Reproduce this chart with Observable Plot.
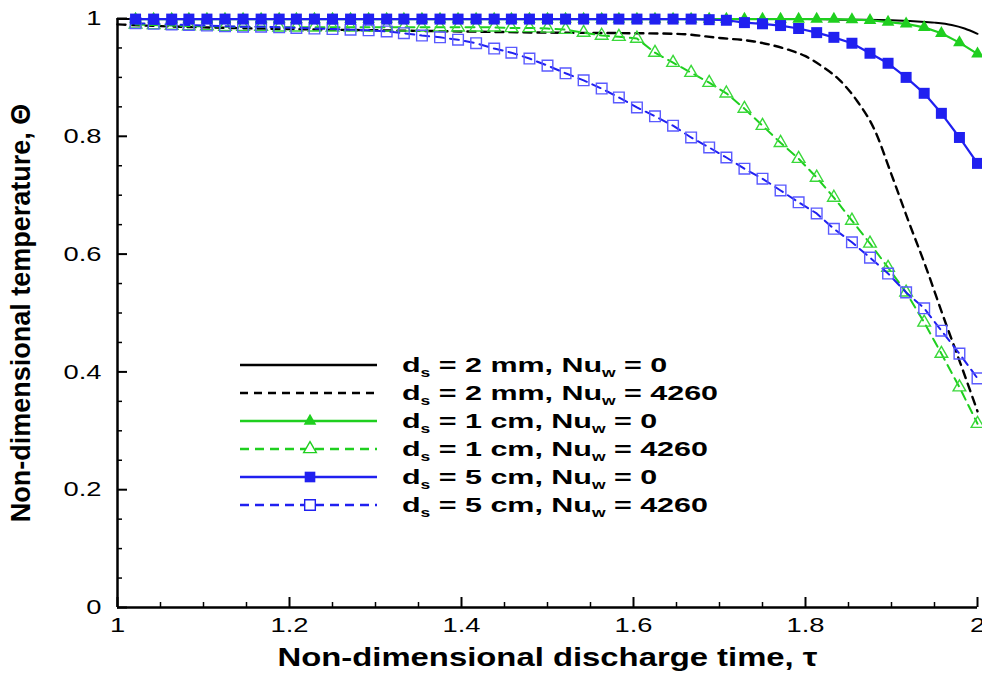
<!DOCTYPE html>
<html><head><meta charset="utf-8">
<script src="https://cdn.jsdelivr.net/npm/d3@7"></script>
<script src="https://cdn.jsdelivr.net/npm/@observablehq/plot@0.6"></script>
<style>
body{margin:0;background:#fff;}
#wrap{position:relative;width:982px;height:680px;font-family:"Liberation Sans",Arial,sans-serif;}
.row{position:absolute;left:238px;height:28px;display:flex;align-items:center;white-space:nowrap;}
.row span.t{display:inline-block;margin-left:24px;font-weight:bold;font-size:21px;line-height:22px;color:#000;transform:scaleX(1.45);transform-origin:0 50%;}
.row sub{font-size:12px;vertical-align:-5px;line-height:0;}
</style></head><body><div id="wrap"></div>
<script>
// ---- data ----
const tauMarked = [1.021,1.042,1.063,1.083,1.104,1.125,1.146,1.167,1.188,1.208,
  1.229,1.250,1.271,1.292,1.313,1.333,1.354,1.375,1.396,1.417,
  1.438,1.458,1.479,1.500,1.521,1.542,1.563,1.583,1.604,1.625,
  1.646,1.667,1.688,1.708,1.729,1.750,1.771,1.792,1.813,1.833,
  1.854,1.875,1.896,1.917,1.938,1.958,1.979,2.000];
const theta1cm0 = [0.999,0.999,0.999,0.999,0.999,0.999,0.999,0.999,0.999,0.999,
  0.999,0.999,0.999,0.999,0.999,0.999,0.999,0.999,0.999,0.999,
  0.999,0.999,0.999,0.999,0.999,0.999,0.999,0.999,0.999,0.999,
  0.999,0.999,0.999,0.999,0.999,0.999,0.999,0.999,0.999,0.999,
  0.998,0.997,0.994,0.991,0.985,0.975,0.959,0.940];
const theta1cm4260 = [0.990,0.989,0.988,0.987,0.987,0.986,0.986,0.986,0.985,0.985,
  0.985,0.985,0.985,0.985,0.985,0.985,0.985,0.985,0.985,0.985,
  0.985,0.984,0.984,0.983,0.981,0.976,0.971,0.969,0.966,0.942,
  0.925,0.908,0.891,0.873,0.847,0.818,0.789,0.762,0.730,0.696,
  0.657,0.618,0.577,0.535,0.484,0.431,0.374,0.312];
const theta5cm0 = [0.999,0.999,0.999,0.999,0.999,0.999,0.999,0.999,0.999,0.999,
  0.999,0.999,0.999,0.999,0.999,0.999,0.999,0.999,0.999,0.999,
  0.999,0.999,0.999,0.999,0.999,0.999,0.999,0.999,0.999,0.999,
  0.999,0.999,0.998,0.997,0.993,0.991,0.988,0.983,0.976,0.968,
  0.958,0.941,0.924,0.900,0.873,0.839,0.798,0.754];
const theta5cm4260 = [0.992,0.991,0.990,0.989,0.988,0.987,0.986,0.986,0.985,0.984,
  0.983,0.982,0.981,0.980,0.978,0.975,0.971,0.968,0.964,0.958,
  0.949,0.942,0.932,0.920,0.907,0.895,0.881,0.866,0.849,0.834,
  0.818,0.798,0.781,0.764,0.745,0.728,0.708,0.688,0.669,0.643,
  0.620,0.594,0.567,0.535,0.508,0.470,0.431,0.389];
const tau2mm0 = [1.0,1.2,1.4,1.6,1.8,1.85,1.9,1.93,1.95,1.97,1.985,2.0];
const theta2mm0 = [0.999,0.999,0.999,0.999,0.999,0.998,0.997,0.995,0.993,0.989,0.983,0.974];
const tau2mm4260 = [1.0,1.05,1.1,1.2,1.3,1.4,1.5,1.6,1.65,1.7,1.74,1.78,1.8,1.82,1.84,1.86,1.88,1.9,1.92,1.94,1.96,1.98,2.0];
const theta2mm4260 = [0.990,0.987,0.985,0.982,0.980,0.978,0.976,0.975,0.974,0.967,0.961,0.947,0.936,0.918,0.895,0.860,0.812,0.735,0.655,0.578,0.495,0.415,0.333];

const xMajor = [1,1.2,1.4,1.6,1.8,2];
const xMinor = [1.05,1.1,1.15,1.25,1.3,1.35,1.45,1.5,1.55,1.65,1.7,1.75,1.85,1.9,1.95];
const yMajor = [0,0.2,0.4,0.6,0.8,1];
const yMinor = [0.05,0.1,0.15,0.25,0.3,0.35,0.45,0.5,0.55,0.65,0.7,0.75,0.85,0.9,0.95];
const xTitle = "Non-dimensional discharge time, τ";
const yTitle = "Non-dimensional temperature, Θ";

const legendSize = ["2 mm","2 mm","1 cm","1 cm","5 cm","5 cm"];
const legendNu = ["0","4260","0","4260","0","4260"];
const GREEN = "#1fcf1f", BLUE = "#2020f0", BLUE_L = "#5a5aff", GREEN_L = "#3ad83a";
const seriesColor = ["#000","#000",GREEN,GREEN,BLUE,BLUE];
const seriesDash = [null,"8,6",null,"9,6",null,"9,6"];
const seriesSymbol = [null,null,"triangle","triangle","square","square"];
const seriesFilled = [false,false,true,false,true,false];

const zip = (xs, ys) => xs.map((x, i) => ({tau: x, theta: ys[i]}));
const d2mm0 = zip(tau2mm0, theta2mm0), d2mm4260 = zip(tau2mm4260, theta2mm4260);
const d1cm0 = zip(tauMarked, theta1cm0), d1cm4260 = zip(tauMarked, theta1cm4260);
const d5cm0 = zip(tauMarked, theta5cm0), d5cm4260 = zip(tauMarked, theta5cm4260);

const W = 982, H = 680, ML = 117, MR = 5, MT = 18, MB = 73;
const plotW = W - ML - MR, plotH = H - MT - MB;
const fmt = d => String(d);
const chart = Plot.plot({
  width: W, height: H,
  marginLeft: ML, marginRight: MR, marginTop: MT, marginBottom: MB,
  style: {fontFamily: "'Liberation Sans', Arial, sans-serif", fontSize: "21px", overflow: "visible", background: "white", color: "black"},
  x: {domain: [1, 2], label: null},
  y: {domain: [0, 1], label: null},
  marks: [
    Plot.axisX({ticks: xMajor, tickSize: 0, tickPadding: 10, tickFormat: fmt, label: null, fontSize: 21}),
    Plot.axisY({ticks: yMajor, tickSize: 0, tickPadding: 16, tickFormat: fmt, label: null, fontSize: 21}),
    // inward tick marks
    Plot.ruleX(xMajor, {x: d => d, insetTop: plotH - 10, strokeWidth: 2}),
    Plot.ruleX(xMinor, {x: d => d, insetTop: plotH - 5, strokeWidth: 1.5}),
    Plot.ruleY(yMajor, {y: d => d, insetRight: plotW - 10, strokeWidth: 2}),
    Plot.ruleY(yMinor, {y: d => d, insetRight: plotW - 5, strokeWidth: 1.5}),
    Plot.ruleX([xMajor[0]], {strokeWidth: 2.5}),
    Plot.ruleY([yMajor[0]], {strokeWidth: 2.5}),
    Plot.text([xTitle], {frameAnchor: "bottom", dy: 50, lineAnchor: "middle", textAnchor: "middle", fontWeight: "bold", fontSize: 26}),
    Plot.text([yTitle], {frameAnchor: "left", dx: -107, rotate: -90, lineAnchor: "top", textAnchor: "middle", fontWeight: "bold", fontSize: 27}),
    Plot.line(d2mm0, {x: "tau", y: "theta", stroke: "#000", strokeWidth: 2, curve: "monotone-x"}),
    Plot.line(d2mm4260, {x: "tau", y: "theta", stroke: "#000", strokeWidth: 2.4, strokeDasharray: "8,6", curve: "monotone-x"}),
    Plot.line(d1cm4260, {x: "tau", y: "theta", stroke: GREEN, strokeWidth: 2, strokeDasharray: "9,6"}),
    Plot.dot(d1cm4260, {x: "tau", y: "theta", symbol: "triangle", r: 4.7, stroke: GREEN_L, fill: "none", strokeWidth: 1.4}),
    Plot.line(d5cm4260, {x: "tau", y: "theta", stroke: BLUE, strokeWidth: 2, strokeDasharray: "9,6"}),
    Plot.dot(d5cm4260, {x: "tau", y: "theta", symbol: "square", r: 6, stroke: BLUE_L, fill: "none", strokeWidth: 1.4}),
    Plot.line(d1cm0, {x: "tau", y: "theta", stroke: GREEN, strokeWidth: 2.2}),
    Plot.dot(d1cm0, {x: "tau", y: "theta", symbol: "triangle", r: 4.7, fill: GREEN, stroke: "none"}),
    Plot.line(d5cm0, {x: "tau", y: "theta", stroke: BLUE, strokeWidth: 2.2}),
    Plot.dot(d5cm0, {x: "tau", y: "theta", symbol: "square", r: 6.2, fill: BLUE, stroke: "none"})
  ]
});
const wrap = document.getElementById("wrap");
wrap.appendChild(chart);

// widen horizontal texts to match the reference's wide lettering
const STRETCH = 1.3;
d3.select(chart).selectAll('g[aria-label="x-axis tick label"] text, g[aria-label="y-axis tick label"] text').each(function () {
  const w = this.getComputedTextLength();
  if (w > 0) { this.setAttribute("textLength", w * STRETCH); this.setAttribute("lengthAdjust", "spacingAndGlyphs"); }
});
d3.select(chart).selectAll('g[aria-label="text"] text').each(function () {
  if (this.textContent === xTitle) {
    this.setAttribute("textLength", 540); this.setAttribute("lengthAdjust", "spacingAndGlyphs");
  }
});

// ---- legend ----
legendSize.forEach((sz, i) => {
  const row = document.createElement("div");
  row.className = "row";
  row.style.top = (351 + i * 28) + "px";
  const svg = d3.create("svg").attr("width", 140).attr("height", 28);
  const ln = svg.append("line").attr("x1", 2).attr("x2", 139).attr("y1", 14).attr("y2", 14)
    .attr("stroke", seriesColor[i]).attr("stroke-width", 2.4);
  if (seriesDash[i]) ln.attr("stroke-dasharray", seriesDash[i]);
  if (seriesSymbol[i]) {
    const sym = seriesSymbol[i] === "triangle" ? d3.symbolTriangle : d3.symbolSquare;
    const r = seriesSymbol[i] === "triangle" ? 4.7 : 6;
    const p = svg.append("path").attr("d", d3.symbol(sym, Math.PI * r * r)()).attr("transform", "translate(72,14)");
    if (seriesFilled[i]) p.attr("fill", seriesColor[i]);
    else p.attr("fill", "white").attr("stroke", seriesColor[i]).attr("stroke-width", 1.4);
  }
  row.appendChild(svg.node());
  const t = document.createElement("span");
  t.className = "t";
  t.innerHTML = `d<sub>s</sub> = ${sz}, Nu<sub>w</sub> = ${legendNu[i]}`;
  row.appendChild(t);
  wrap.appendChild(row);
});
</script></body></html>
